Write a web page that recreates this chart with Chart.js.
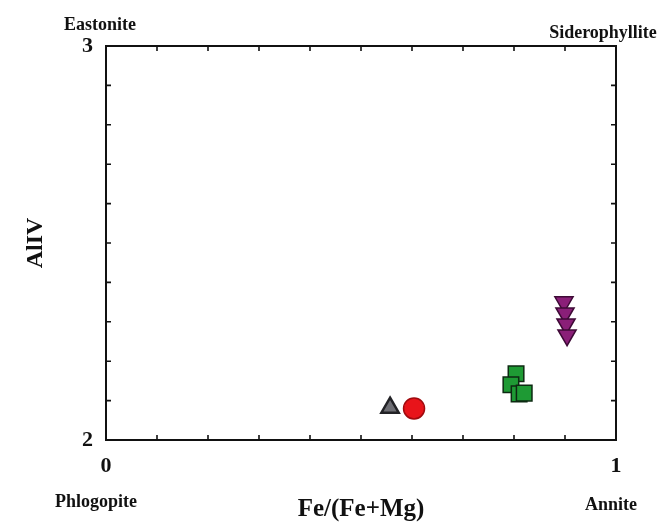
<!DOCTYPE html>
<html>
<head>
<meta charset="utf-8">
<script src="https://cdn.jsdelivr.net/npm/chart.js@4/dist/chart.umd.min.js"></script>
<style>
  html, body { margin: 0; padding: 0; background: #fff; }
  #wrap { width: 663px; height: 525px; }
</style>
</head>
<body>
<div id="wrap"><canvas id="c" width="663" height="525"></canvas></div>
<script>
// Biotite compositions: Fe/(Fe+Mg) against Al(IV)
const triangleGreyX = [0.557];
const triangleGreyY = [2.082];
const circleRedX = [0.604];
const circleRedY = [2.080];
const squareGreenX = [0.804, 0.794, 0.810, 0.820];
const squareGreenY = [2.168, 2.140, 2.117, 2.119];
const invTrianglePurpleX = [0.898, 0.900, 0.902, 0.904];
const invTrianglePurpleY = [2.350, 2.322, 2.294, 2.266];

const xTickLabels = { 0: '0', 1: '1' };
const yTickLabels = { 2: '2', 3: '3' };
const cornerLabels = ['Eastonite', 'Siderophyllite', 'Phlogopite', 'Annite'];

const SERIF = '"Liberation Serif", "DejaVu Serif", serif';

function pts(xs, ys) {
  return xs.map((x, i) => ({ x: x, y: ys[i] }));
}
function labelFor(map, v) {
  const k = Math.round(v * 10) / 10;
  return Object.prototype.hasOwnProperty.call(map, k) ? map[k] : '';
}

// Frame on all four sides with inward-pointing minor ticks, plus end-member names
const framePlugin = {
  id: 'frame',
  afterDraw(chart) {
    const { ctx, chartArea: a, scales } = chart;
    ctx.save();
    ctx.strokeStyle = '#111';
    ctx.lineWidth = 2;
    ctx.strokeRect(a.left, a.top, a.right - a.left, a.bottom - a.top);
    ctx.lineWidth = 1.6;
    const len = 5;
    scales.x.ticks.forEach(t => {
      if (t.value <= 0.001 || t.value >= 0.999) return;
      const px = scales.x.getPixelForValue(t.value);
      ctx.beginPath();
      ctx.moveTo(px, a.bottom); ctx.lineTo(px, a.bottom - len);
      ctx.moveTo(px, a.top); ctx.lineTo(px, a.top + len);
      ctx.stroke();
    });
    scales.y.ticks.forEach(t => {
      if (t.value <= 2.001 || t.value >= 2.999) return;
      const py = scales.y.getPixelForValue(t.value);
      ctx.beginPath();
      ctx.moveTo(a.left, py); ctx.lineTo(a.left + len, py);
      ctx.moveTo(a.right, py); ctx.lineTo(a.right - len, py);
      ctx.stroke();
    });
    ctx.fillStyle = '#111';
    ctx.textAlign = 'center';
    ctx.textBaseline = 'middle';
    ctx.font = 'bold 18px ' + SERIF;
    ctx.fillText(cornerLabels[0], 100, 25);
    ctx.fillText(cornerLabels[1], 603, 33);
    ctx.fillText(cornerLabels[2], 96, 502);
    ctx.fillText(cornerLabels[3], 611, 505);
    ctx.restore();
  }
};

new Chart(document.getElementById('c'), {
  type: 'scatter',
  data: {
    datasets: [
      {
        label: 'grey',
        data: pts(triangleGreyX, triangleGreyY),
        pointStyle: 'triangle', pointRadius: 10,
        backgroundColor: '#6e6e74', borderColor: '#222226', borderWidth: 2.5
      },
      {
        label: 'red',
        data: pts(circleRedX, circleRedY),
        pointStyle: 'circle', pointRadius: 10.5,
        backgroundColor: '#e8141a', borderColor: '#a00a0e', borderWidth: 1.5
      },
      {
        label: 'green',
        data: pts(squareGreenX, squareGreenY),
        pointStyle: 'rect', pointRadius: 11,
        backgroundColor: '#1e9a34', borderColor: '#0d2a12', borderWidth: 1.5
      },
      {
        label: 'purple',
        data: pts(invTrianglePurpleX, invTrianglePurpleY),
        pointStyle: 'triangle', rotation: 180, pointRadius: 10.5,
        backgroundColor: '#8a1f78', borderColor: '#3e0a36', borderWidth: 1.5
      }
    ]
  },
  options: {
    responsive: false,
    animation: false,
    events: [],
    layout: { padding: { top: 46, right: 47, bottom: 0, left: 0 } },
    plugins: { legend: { display: false }, tooltip: { enabled: false } },
    scales: {
      x: {
        type: 'linear', min: 0, max: 1,
        afterFit(s) { s.height = 85; },
        grid: { display: false, drawTicks: false },
        border: { display: true, color: '#111', width: 2 },
        ticks: {
          stepSize: 0.1, autoSkip: false, maxRotation: 0, padding: 13,
          color: '#111', font: { family: SERIF, size: 22, weight: 'bold' },
          callback: v => labelFor(xTickLabels, v)
        },
        title: {
          display: true, text: 'Fe/(Fe+Mg)', color: '#111',
          font: { family: SERIF, size: 25, weight: 'bold' },
          padding: { top: 0, bottom: 0 }
        }
      },
      y: {
        type: 'linear', min: 2, max: 3,
        afterFit(s) { s.width = 106; },
        grid: { display: false, drawTicks: false },
        border: { display: true, color: '#111', width: 2 },
        ticks: {
          stepSize: 0.1, autoSkip: false, padding: 13,
          color: '#111', font: { family: SERIF, size: 22, weight: 'bold' },
          callback: v => labelFor(yTickLabels, v)
        },
        title: {
          display: true, text: 'AlIV', color: '#111',
          font: { family: SERIF, size: 24, weight: 'bold' },
          padding: { top: 21, bottom: 0 }
        }
      }
    }
  },
  plugins: [framePlugin]
});
</script>
</body>
</html>
